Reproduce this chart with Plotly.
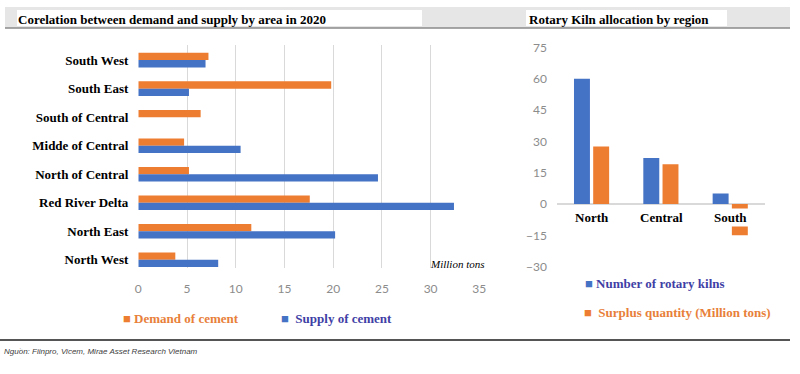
import plotly.graph_objects as go

# ---- Left chart data ----
areas = ["South West", "South East", "South of Central", "Midde of Central",
         "North of Central", "Red River Delta", "North East", "North West"]
demand = [7.2, 19.8, 6.4, 4.7, 5.2, 17.6, 11.6, 3.8]
supply = [6.9, 5.2, 0, 10.5, 24.6, 32.4, 20.2, 8.2]
x_ticks = [0, 5, 10, 15, 20, 25, 30, 35]
left_series = ["Demand of cement", "Supply of cement"]

# ---- Right chart data ----
regions = ["North", "Central", "South"]
kilns = [60, 22, 5]
surplus = [27.5, 19, -15]
y_ticks = [75, 60, 45, 30, 15, 0, -15, -30]
right_series = ["Number of rotary kilns", "Surplus quantity (Million tons)"]

BLUE = "#4472C4"
ORANGE = "#ED7D31"
NAVY = "#3F3FA6"
ORANGE_TXT = "#E8803A"
SERIF = "Liberation Serif, Times New Roman, serif"
SANS = "Lato, Open Sans, sans-serif"

fig = go.Figure()

# Left: horizontal grouped bars
fig.add_trace(go.Bar(y=areas, x=demand, orientation="h", marker_color=ORANGE,
                     name=left_series[0], xaxis="x", yaxis="y", showlegend=False))
fig.add_trace(go.Bar(y=areas, x=supply, orientation="h", marker_color=BLUE,
                     name=left_series[1], xaxis="x", yaxis="y", showlegend=False))

# Right: vertical bars
fig.add_trace(go.Bar(x=regions, y=kilns, marker_color=BLUE, name=right_series[0],
                     xaxis="x2", yaxis="y2", width=0.23, offset=-0.255, showlegend=False))
fig.add_trace(go.Bar(x=regions, y=surplus, marker_color=ORANGE, name=right_series[1],
                     xaxis="x2", yaxis="y2", width=0.23, offset=0.022, showlegend=False))

W, H = 800, 374
def px(x):
    return x / W
def py(y):
    return 1 - y / H

fig.update_layout(
    template="none",
    width=W, height=H,
    margin=dict(l=0, r=0, t=0, b=0),
    paper_bgcolor="white", plot_bgcolor="white",
    barmode="group", bargap=0.49, bargroupgap=0,
    xaxis=dict(domain=[px(138.3), px(479.3)], range=[0, 35], tickvals=x_ticks,
               showgrid=True, gridcolor="#D9D9D9", gridwidth=1, zeroline=False,
               showline=False, anchor="y", ticklabelstandoff=12, automargin=False,
               ticks="",
               tickfont=dict(family=SANS, size=12, color="#8C8C8C")),
    yaxis=dict(domain=[py(268), py(45)], range=[7.29, -0.53], type="category",
               showgrid=False, zeroline=False, showline=False, anchor="x",
               ticklabelstandoff=9, automargin=False, ticks="",
               tickfont=dict(family=SERIF, size=13, color="black", weight="bold")),
    xaxis2=dict(domain=[px(557), px(765)], showticklabels=False, showgrid=False,
                zeroline=False, showline=False, anchor="y2", automargin=False, ticks=""),
    yaxis2=dict(domain=[py(266.7), py(47.3)], range=[-30, 75], tickvals=y_ticks,
                showgrid=False, zeroline=True, zerolinecolor="#D9D9D9", zerolinewidth=2,
                showline=False, anchor="x2", ticklabelstandoff=9, automargin=False, ticks="",
                tickfont=dict(family=SANS, size=12, color="#8C8C8C")),
)

shapes = [
    # gray header band
    dict(type="rect", xref="paper", yref="paper", x0=px(5), x1=px(790), y0=py(28), y1=py(7),
         fillcolor="#E6E6E6", line_width=0, layer="below"),
    dict(type="line", xref="paper", yref="paper", x0=px(5), x1=px(790), y0=py(28), y1=py(28),
         line=dict(color="#8A8A8A", width=1.5)),
    # white title boxes
    dict(type="rect", xref="paper", yref="paper", x0=px(17), x1=px(422), y0=py(26), y1=py(10),
         fillcolor="white", line_width=0, layer="below"),
    dict(type="rect", xref="paper", yref="paper", x0=px(526), x1=px(727), y0=py(26), y1=py(10),
         fillcolor="white", line_width=0, layer="below"),
    # bottom rule
    dict(type="line", xref="paper", yref="paper", x0=0, x1=px(790), y0=py(340), y1=py(340),
         line=dict(color="#555555", width=2)),
]
fig.update_layout(shapes=shapes)

ann = []
ann.append(dict(text="Corelation between demand and supply by area in 2020", xref="paper", yref="paper",
                x=px(16), y=py(20), xanchor="left", yanchor="middle", showarrow=False,
                font=dict(family=SERIF, size=13, color="black", weight="bold")))
ann.append(dict(text="Rotary Kiln allocation by region", xref="paper", yref="paper",
                x=px(527), y=py(20), xanchor="left", yanchor="middle", showarrow=False,
                font=dict(family=SERIF, size=13, color="black", weight="bold")))
ann.append(dict(text="Million tons", xref="paper", yref="paper",
                x=px(486), y=py(264), xanchor="right", yanchor="middle", showarrow=False,
                font=dict(family=SERIF, size=11, color="black", style="italic")))
# left legend
ann.append(dict(text=f'<span style="color:{ORANGE}">■</span> {left_series[0]}', xref="paper", yref="paper",
                x=px(121), y=py(318), xanchor="left", yanchor="middle", showarrow=False,
                font=dict(family=SERIF, size=13, color=ORANGE_TXT, weight="bold")))
ann.append(dict(text=f'<span style="color:{BLUE}">■</span>  {left_series[1]}', xref="paper", yref="paper",
                x=px(279), y=py(318), xanchor="left", yanchor="middle", showarrow=False,
                font=dict(family=SERIF, size=13, color=NAVY, weight="bold")))
# right legend
ann.append(dict(text=f'<span style="color:{BLUE}">■</span> {right_series[0]}', xref="paper", yref="paper",
                x=px(583), y=py(283), xanchor="left", yanchor="middle", showarrow=False,
                font=dict(family=SERIF, size=13, color=NAVY, weight="bold")))
ann.append(dict(text=f'<span style="color:{ORANGE}">■</span>  {right_series[1]}', xref="paper", yref="paper",
                x=px(582), y=py(312), xanchor="left", yanchor="middle", showarrow=False,
                font=dict(family=SERIF, size=13, color=ORANGE_TXT, weight="bold")))
# right category labels just below zero line
for r in regions:
    ann.append(dict(text=r, xref="x2", yref="y2", x=r, y=0, yshift=-13,
                    xanchor="center", yanchor="middle", showarrow=False,
                    bgcolor="white" if r == "South" else None,
                    font=dict(family=SERIF, size=13, color="black", weight="bold")))
# source
ann.append(dict(text="Nguồn: Fiinpro, Vicem, Mirae Asset Research Vietnam", xref="paper", yref="paper",
                x=px(2), y=py(351), xanchor="left", yanchor="middle", showarrow=False,
                font=dict(family="Liberation Sans, Arial, sans-serif", size=8,
                          color="#404040", style="italic")))
fig.update_layout(annotations=ann)

fig.write_html("out.html", config={"displayModeBar": False},
               post_script="document.body.style.margin='0';")
